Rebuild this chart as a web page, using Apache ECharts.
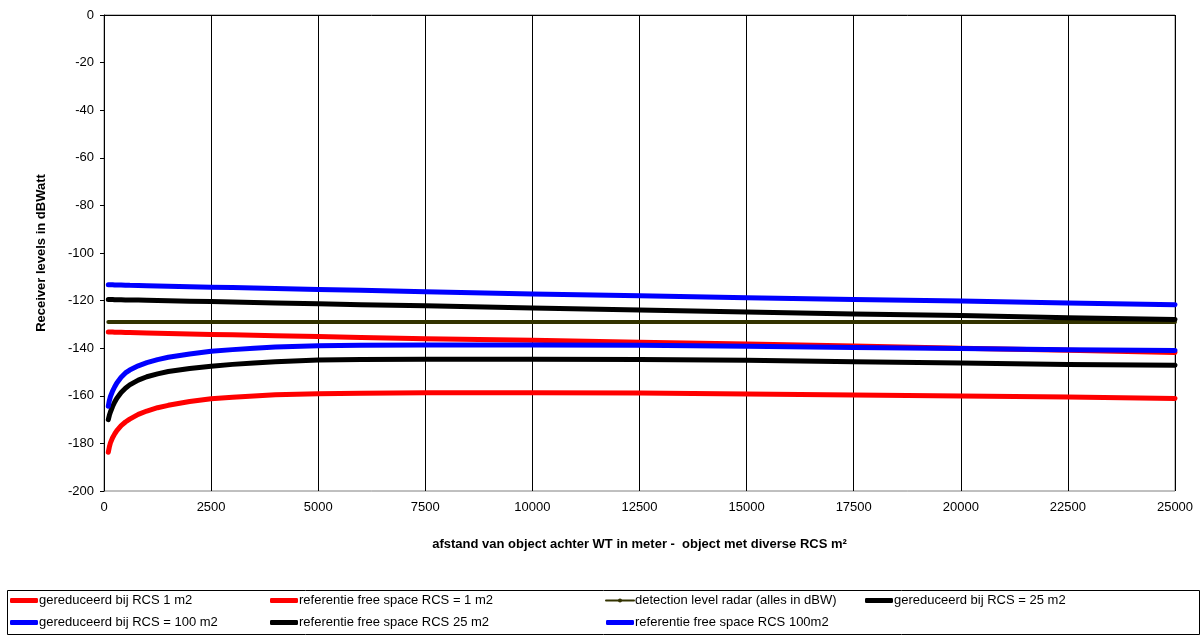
<!DOCTYPE html>
<html>
<head>
<meta charset="utf-8">
<script src="https://cdn.jsdelivr.net/npm/echarts@6/dist/echarts.min.js"></script>
<style>
  html, body { margin: 0; padding: 0; background: #fff; }
  #chart { width: 1204px; height: 635px; }
</style>
</head>
<body>
<div id="chart"></div>
<script>
// afstand (m) achter de windturbine
const distance = [100, 125, 150, 200, 250, 300, 400, 500, 600, 800, 1000, 1250, 1500, 2000, 2500, 3000, 3500, 4000, 5000, 6000, 7500, 10000, 12500, 15000, 17500, 20000, 22500, 25000];

// receiver levels in dBW
const gereduceerd1 = [-183.7, -181.5, -179.8, -177.6, -176.0, -174.6, -172.5, -171.0, -169.8, -167.8, -166.4, -165.0, -164.0, -162.4, -161.2, -160.6, -160.1, -159.6, -159.1, -158.9, -158.7, -158.7, -158.8, -159.2, -159.7, -160.1, -160.5, -161.1];
const referentie1 = [-133.2, -133.2, -133.2, -133.2, -133.3, -133.3, -133.3, -133.4, -133.4, -133.5, -133.6, -133.7, -133.8, -134.0, -134.2, -134.4, -134.6, -134.8, -135.1, -135.5, -136.0, -136.7, -137.5, -138.2, -139.1, -140.0, -140.9, -141.8];
const detection = [-129, -129, -129, -129, -129, -129, -129, -129, -129, -129, -129, -129, -129, -129, -129, -129, -129, -129, -129, -129, -129, -129, -129, -129, -129, -129, -129, -129];
const gereduceerd25 = [-170.0, -168.2, -166.8, -164.5, -162.6, -161.0, -158.6, -156.8, -155.4, -153.4, -152.0, -150.8, -149.8, -148.5, -147.6, -146.8, -146.2, -145.7, -145.0, -144.7, -144.6, -144.6, -144.7, -145.1, -145.7, -146.2, -146.8, -147.2];
const gereduceerd100 = [-164.4, -162.0, -160.3, -158.0, -156.2, -154.6, -152.2, -150.4, -149.2, -147.4, -146.1, -144.8, -143.8, -142.4, -141.3, -140.6, -140.0, -139.5, -139.0, -138.8, -138.7, -138.7, -138.8, -139.2, -139.7, -140.1, -140.6, -141.0];
const referentie25 = [-119.5, -119.5, -119.5, -119.5, -119.6, -119.6, -119.6, -119.7, -119.7, -119.8, -119.9, -120.0, -120.1, -120.3, -120.4, -120.6, -120.8, -121.0, -121.3, -121.7, -122.2, -123.1, -123.9, -124.8, -125.6, -126.3, -127.2, -127.9];
const referentie100 = [-113.3, -113.3, -113.3, -113.3, -113.4, -113.4, -113.4, -113.5, -113.6, -113.7, -113.8, -113.9, -114.0, -114.2, -114.4, -114.5, -114.7, -114.9, -115.3, -115.7, -116.3, -117.2, -118.0, -118.8, -119.5, -120.2, -121.0, -121.7];

const yTicks = { min: -200, max: 0, interval: 20 };
const xTicks = { min: 0, max: 25000, interval: 2500 };

const font = "'Liberation Sans', Arial, sans-serif";

function pairs(vals) {
  return distance.map((d, i) => [d, vals[i]]);
}

function makeLine(name, vals, color, width) {
  return {
    name: name,
    type: "line",
    data: pairs(vals),
    symbol: "none",
    smooth: false,
    color: color,
    lineStyle: { color: color, width: width, cap: "round", join: "round" },
    emphasis: { disabled: true },
  };
}

const chart = echarts.init(document.getElementById("chart"));

const legendBase = {
  orient: "vertical",
  top: 594,
  itemWidth: 28,
  itemHeight: 5,
  itemGap: 9,
  textStyle: { fontFamily: font, fontSize: 13, color: "#000", padding: [0, 0, 0, -4] },
  padding: 0,
};

function thick(name) {
  return { name: name, icon: "roundRect" };
}

const option = {
  animation: false,
  backgroundColor: "#fff",
  textStyle: { fontFamily: font },
  grid: {
    left: 104,
    right: 29,
    top: 15,
    bottom: 144,
    show: true,
    borderColor: "#808080",
    borderWidth: 1,
  },
  xAxis: {
    type: "value",
    min: xTicks.min,
    max: xTicks.max,
    interval: xTicks.interval,
    name: "afstand van object achter WT in meter -  object met diverse RCS m²",
    nameLocation: "middle",
    nameGap: 47,
    nameTextStyle: { fontFamily: font, fontSize: 13, fontWeight: "bold", color: "#000" },
    axisLine: { lineStyle: { color: "#000", width: 1 } },
    axisTick: { show: true, length: 4, lineStyle: { color: "#000" } },
    axisLabel: { fontFamily: font, fontSize: 13, color: "#000", margin: 10, formatter: (v) => String(v) },
    splitLine: { show: true, lineStyle: { color: "#000", width: 1 } },
  },
  yAxis: {
    type: "value",
    min: yTicks.min,
    max: yTicks.max,
    interval: yTicks.interval,
    name: "Receiver levels in dBWatt",
    nameLocation: "middle",
    nameGap: 56,
    nameTextStyle: { fontFamily: font, fontSize: 13, fontWeight: "bold", color: "#000" },
    axisLine: { show: true, lineStyle: { color: "#000", width: 1 } },
    axisTick: { show: true, length: 4, lineStyle: { color: "#000" } },
    axisLabel: { fontFamily: font, fontSize: 13, color: "#000", margin: 10 },
    splitLine: { show: false },
  },
  legend: [
    Object.assign({}, legendBase, { left: 10, data: [thick("gereduceerd bij RCS 1 m2"), thick("gereduceerd bij RCS = 100 m2")] }),
    Object.assign({}, legendBase, { left: 270, data: [thick("referentie free space RCS = 1 m2"), thick("referentie free space RCS 25 m2")] }),
    Object.assign({}, legendBase, {
      left: 605,
      data: [
        { name: "detection level radar (alles in dBW)", lineStyle: { width: 2 } },
        thick("referentie free space RCS 100m2"),
      ],
    }),
    Object.assign({}, legendBase, { left: 865, data: [thick("gereduceerd bij RCS = 25 m2")] }),
  ],
  graphic: [
    {
      type: "rect",
      left: 5,
      top: 588,
      shape: { width: 1192, height: 44 },
      style: { fill: "none", stroke: "#000", lineWidth: 1 },
      silent: true,
      z: -1,
    },
  ],
  series: [
    makeLine("gereduceerd bij RCS 1 m2", gereduceerd1, "#ff0000", 5),
    makeLine("referentie free space RCS = 1 m2", referentie1, "#ff0000", 5),
    makeLine("detection level radar (alles in dBW)", detection, "#333300", 4),
    makeLine("gereduceerd bij RCS = 25 m2", gereduceerd25, "#000000", 5),
    makeLine("gereduceerd bij RCS = 100 m2", gereduceerd100, "#0000ff", 5),
    makeLine("referentie free space RCS 25 m2", referentie25, "#000000", 5),
    makeLine("referentie free space RCS 100m2", referentie100, "#0000ff", 5),
  ],
};

chart.setOption(option);
</script>
</body>
</html>
